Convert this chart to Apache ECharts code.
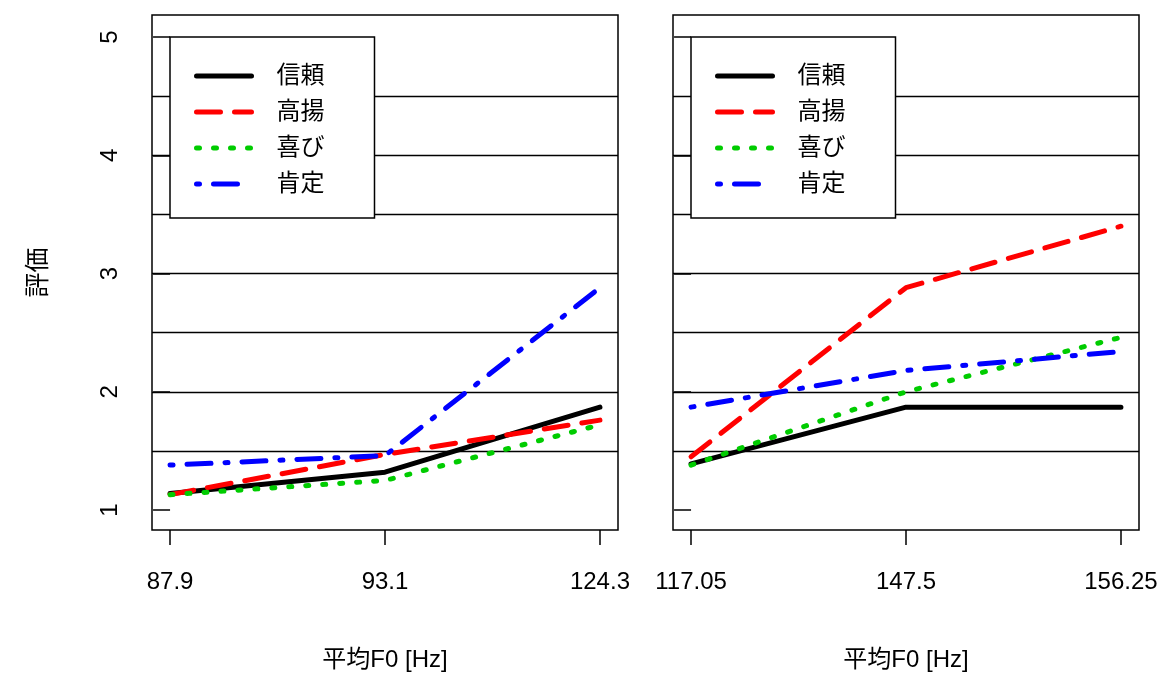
<!DOCTYPE html>
<html><head><meta charset="utf-8">
<script src="https://cdn.jsdelivr.net/npm/echarts@6/dist/echarts.min.js"></script>
<style>html,body{margin:0;background:#fff}#c{width:1170px;height:677px}</style>
</head><body><div id="c"></div>
<script>
const leftCats = ['87.9','93.1','124.3'];
const rightCats = ['117.05','147.5','156.25'];
const seriesNames = ['信頼','高揚','喜び','肯定'];
const leftValues = {
  '信頼':[1.14,1.32,1.87],
  '高揚':[1.13,1.47,1.76],
  '喜び':[1.13,1.25,1.72],
  '肯定':[1.38,1.46,2.88]
};
const rightValues = {
  '信頼':[1.39,1.87,1.87],
  '高揚':[1.45,2.88,3.40],
  '喜び':[1.38,2.00,2.46],
  '肯定':[1.87,2.18,2.34]
};
const gridLines = [1.5,2,2.5,3,3.5,4,4.5];
const yTicks = [1,2,3,4,5];

const styles = {
  '信頼':{color:'#000000',type:'solid'},
  '高揚':{color:'#ff0000',type:[24,14]},
  '喜び':{color:'#00cc00',type:[3,14]},
  '肯定':{color:'#0000ff',type:[3,14,24,14]}
};
const font = 'Liberation Sans, Arial, Noto Sans CJK JP, sans-serif';
function xAxis(idx, cats){
  return {type:'value',gridIndex:idx,min:-0.084,max:2.084,
    name:'平均F0 [Hz]',nameLocation:'middle',nameGap:118,
    nameTextStyle:{fontSize:24,color:'#000',fontFamily:font},
    axisLine:{show:false},splitLine:{show:false},
    axisTick:{show:true,inside:false,length:15,customValues:[0,1,2],lineStyle:{color:'#000',width:1.5}},
    axisLabel:{customValues:[0,1,2],formatter:v=>cats[Math.round(v)],fontSize:24,color:'#000',fontFamily:font,margin:40}};
}
function yAxis(idx, labels){
  return {type:'value',gridIndex:idx,min:0.831,max:5.186,
    name: labels?'評価':'',nameLocation:'middle',nameGap:100,nameRotate:90,
    nameTextStyle:{fontSize:25,color:'#000',fontFamily:font},
    axisLine:{show:false},splitLine:{show:false},
    axisTick:{show:true,inside:false,length:17,customValues:yTicks,lineStyle:{color:'#000',width:1.5}},
    axisLabel:{show:labels,customValues:yTicks,rotate:90,fontSize:24,color:'#000',fontFamily:font,margin:30}};
}
const series=[];
[[0,leftValues],[1,rightValues]].forEach(([gi,vals])=>{
  seriesNames.forEach((n,k)=>{
    const s={name:n,type:'line',xAxisIndex:gi,yAxisIndex:gi,symbol:'none',
      data:vals[n].map((v,i)=>[i,v]),z:3,
      lineStyle:{color:styles[n].color,type:styles[n].type,width:5,cap:'round'},
      itemStyle:{color:styles[n].color}};
    if(k===0){s.markLine={silent:true,symbol:'none',label:{show:false},animation:false,z:1,
      lineStyle:{color:'#000',type:'solid',width:1.3},data:gridLines.map(v=>({yAxis:v}))};}
    series.push(s);
  });
});
function legend(left){
  return {orient:'vertical',left:left,top:37,itemWidth:55,itemHeight:14,itemGap:12,
    data:seriesNames.slice(),backgroundColor:'#fff',borderColor:'#000',borderWidth:1.5,padding:[27,50,22,24],
    itemStyle:{opacity:0},lineStyle:{width:5,cap:'round'},
    textStyle:{fontSize:24,color:'#000',fontFamily:font,padding:[0,0,0,20]}};
}
const chart=echarts.init(document.getElementById('c'));
chart.setOption({
  animation:false,
  grid:[{left:152,width:466,top:15,bottom:147,show:true,borderColor:'#000',borderWidth:1.5,backgroundColor:'transparent'},
        {left:673,width:466,top:15,bottom:147,show:true,borderColor:'#000',borderWidth:1.5,backgroundColor:'transparent'}],
  xAxis:[xAxis(0,leftCats),xAxis(1,rightCats)],
  yAxis:[yAxis(0,true),yAxis(1,false)],
  legend:[legend(170),legend(691)],
  series
});
</script></body></html>
